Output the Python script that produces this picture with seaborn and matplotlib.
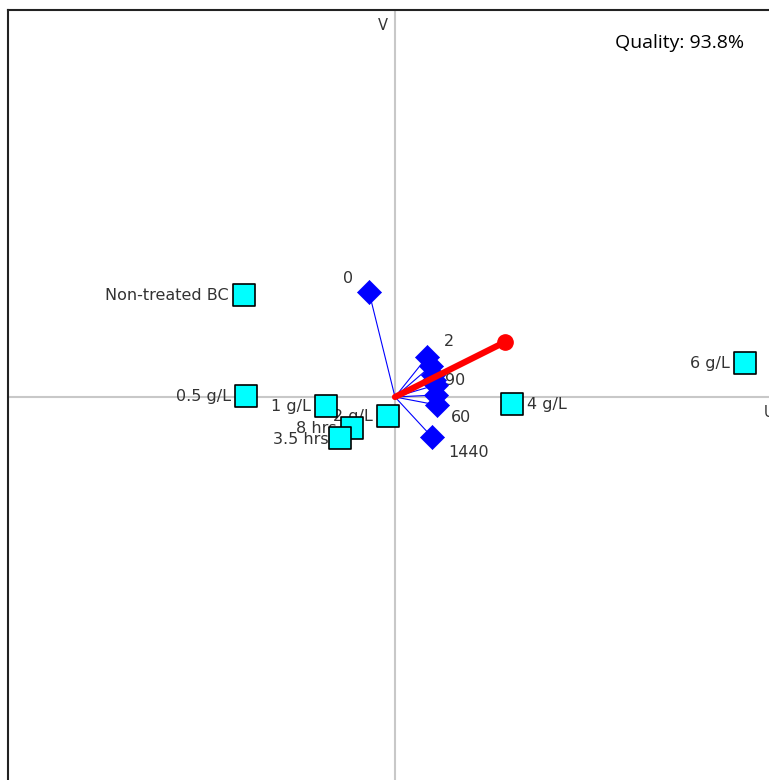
import numpy as np
import pandas as pd
import matplotlib
matplotlib.use("Agg")
import matplotlib.pyplot as plt
import seaborn as sns

# treatments (cyan squares)
treat_names = ["Non-treated BC", "0.5 g/L", "1 g/L", "2 g/L", "8 hrs", "3.5 hrs", "4 g/L", "6 g/L"]
treat_u = [-1.51, -1.49, -0.69, -0.07, -0.43, -0.55, 1.17, 3.50]
treat_v = [1.02, 0.01, -0.09, -0.19, -0.31, -0.41, -0.07, 0.34]

# time points (blue diamonds)
time_names = ["0", "2", "5", "10", "15", "30", "90", "60", "1440"]
time_u = [-0.26, 0.32, 0.36, 0.38, 0.41, 0.41, 0.39, 0.42, 0.37]
time_v = [1.05, 0.40, 0.31, 0.22, 0.12, 0.02, 0.17, -0.08, -0.40]
time_shown = ["0", "2", "90", "60", "1440"]

# red vector
vec_u, vec_v = 1.10, 0.55

sns.set_style("white")
plt.rcParams['font.family'] = ['DejaVu Sans']

treat = pd.DataFrame({"u": treat_u, "v": treat_v, "name": treat_names})
times = pd.DataFrame({"u": time_u, "v": time_v, "name": time_names})

fig = plt.figure(figsize=(7.69, 7.80), dpi=100)
ax = fig.add_axes([8 / 769, 0, 761 / 769, 770 / 780])
ax.set_xlim(-3.87, 3.74)
ax.set_ylim(-3.83, 3.87)

ax.axhline(0, color="#c8c8c8", lw=1.5, zorder=0)
ax.axvline(0, color="#c8c8c8", lw=1.5, zorder=0)

for u, v in zip(time_u, time_v):
    ax.plot([0, u], [0, v], color="#0000ff", lw=0.8, zorder=1)

sns.scatterplot(data=times, x="u", y="v", marker="D", s=150, color="#0000ff",
                edgecolor="#0000ff", linewidth=0.5, ax=ax, zorder=3, legend=False)

ax.plot([0, vec_u], [0, vec_v], color="#ff0000", lw=4.5, solid_capstyle="round", zorder=4)
ax.plot([vec_u], [vec_v], "o", color="#ff0000", ms=11, zorder=4)

sns.scatterplot(data=treat, x="u", y="v", marker="s", s=260, color="#00ffff",
                edgecolor="black", linewidth=1.2, ax=ax, zorder=5, legend=False)

txt = dict(fontsize=11.5, color="#333333", zorder=2)
for name, u, v in zip(treat_names, treat_u, treat_v):
    if name == "4 g/L":
        ax.annotate(name, (u, v), xytext=(11, 0), textcoords="offset points",
                    ha="left", va="center", **txt)
    elif name == "3.5 hrs":
        ax.annotate(name, (u, v), xytext=(-8, -1), textcoords="offset points",
                    ha="right", va="center", **txt)
    else:
        ax.annotate(name, (u, v), xytext=(-11, 0), textcoords="offset points",
                    ha="right", va="center", **txt)

offsets = {"0": (-19, 10), "2": (12, 11), "90": (8, 0), "60": (10, -9), "1440": (12, -11)}
for name, u, v in zip(time_names, time_u, time_v):
    if name in time_shown:
        dx, dy = offsets[name]
        ax.annotate(name, (u, v), xytext=(dx, dy), textcoords="offset points",
                    ha="left", va="center", **txt)

ax.text(-0.12, 3.72, "V", fontsize=10.5, color="#333333", ha="center", va="center")
ax.text(3.69, -0.15, "U", fontsize=10.5, color="#333333", ha="left", va="center")
fig.text(0.884, 0.945, "Quality: 93.8%", fontsize=14, family="Open Sans",
         color="black", ha="center", va="center")

ax.set_xticks([])
ax.set_yticks([])
ax.set_xlabel("")
ax.set_ylabel("")
for side in ["right", "bottom"]:
    ax.spines[side].set_visible(False)
for side in ["left", "top"]:
    ax.spines[side].set_color("#222222")
    ax.spines[side].set_linewidth(1.5)

fig.savefig("out.png", dpi=100)
